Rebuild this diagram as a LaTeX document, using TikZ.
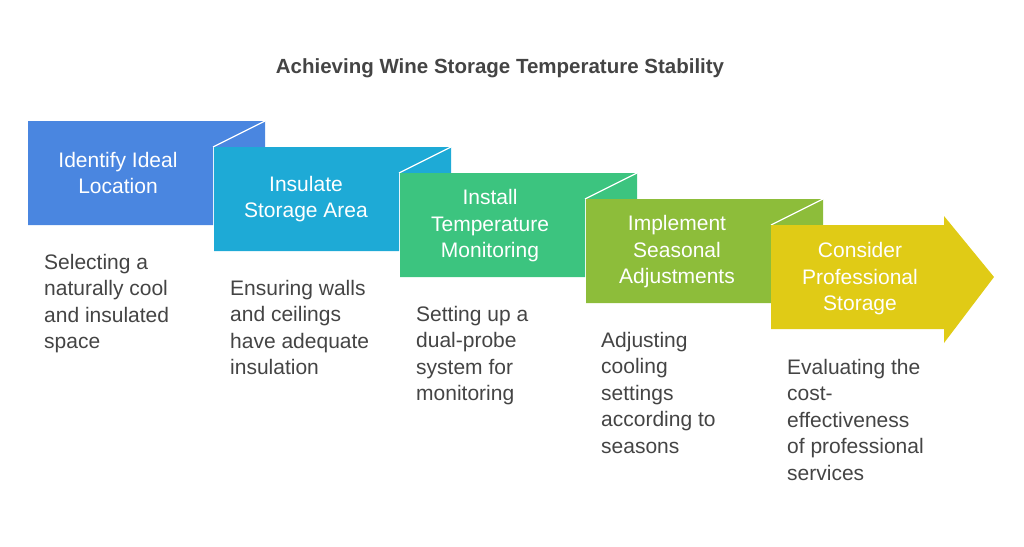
\documentclass[tikz,border=0pt]{standalone}
\usepackage{fontspec}
\setmainfont{Liberation Sans}
\definecolor{c0}{HTML}{4A86E0}
\definecolor{c1}{HTML}{1EAAD6}
\definecolor{c2}{HTML}{3CC47F}
\definecolor{c3}{HTML}{8DBD3A}
\definecolor{c4}{HTML}{E0CB16}
\definecolor{txt}{HTML}{444444}
\begin{document}
\begin{tikzpicture}[x=1pt,y=-1pt,
  lab/.style={text=white,font=\fontsize{21}{26.5}\selectfont,align=center},
  desc/.style={text=txt,font=\fontsize{21}{26.5}\selectfont,align=left,anchor=north west,inner sep=0pt}]
\useasboundingbox (0,0) rectangle (1024,546);
\node[font=\bfseries\fontsize{20.5}{24}\selectfont,text=txt] (title) at (500,68) {Achieving Wine Storage Temperature Stability};
\foreach \i/\c in {0/c0,1/c1,2/c2,3/c3}{
  \pgfmathsetmacro\X{28+186*\i}
  \pgfmathsetmacro\Y{121+26*\i}
  \fill[\c] (\X,\Y) -- ++(237,0) -- ++(0,26) -- ++(-52,0) -- ++(0,78) -- ++(-185,0) -- cycle;
  \draw[white,line width=1.2pt] (\X+185,\Y+26) -- (\X+237,\Y);
}
\fill[c4] (771,225) -- (944,225) -- (944,216) -- (994,277) -- (944,343) -- (944,329) -- (771,329) -- cycle;
\node[lab] (s0) at (118,173) {Identify Ideal\\Location};
\node[lab] (s1) at (306,199) {Insulate\\Storage Area};
\node[lab] (s2) at (490,226) {Install\\Temperature\\Monitoring};
\node[lab] (s3) at (677,252) {Implement\\Seasonal\\Adjustments};
\node[lab] (s4) at (860,279) {Consider\\Professional\\Storage};
\node[desc] (d0) at (44,254) {Selecting a\\naturally cool\\and insulated\\space};
\node[desc] (d1) at (230,280) {Ensuring walls\\and ceilings\\have adequate\\insulation};
\node[desc] (d2) at (416,306) {Setting up a\\dual-probe\\system for\\monitoring};
\node[desc] (d3) at (601,332) {Adjusting\\cooling\\settings\\according to\\seasons};
\node[desc] (d4) at (787,359) {Evaluating the\\cost-\\effectiveness\\of professional\\services};
\end{tikzpicture}
\end{document}
